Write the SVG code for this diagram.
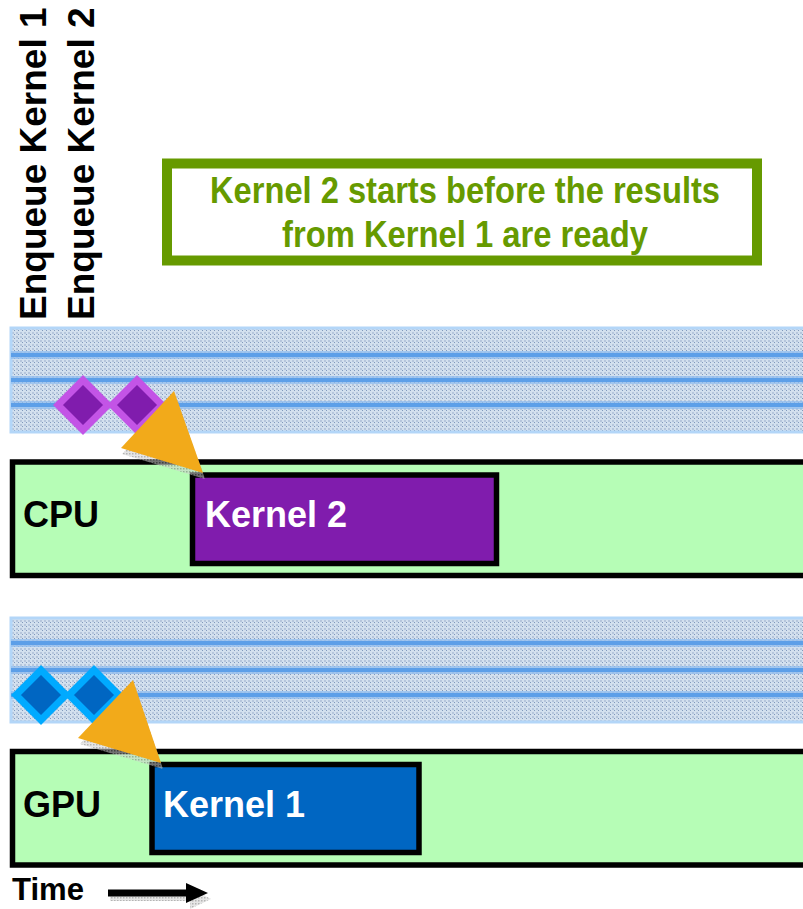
<svg xmlns="http://www.w3.org/2000/svg" width="803" height="909" viewBox="0 0 803 909">
<style>
.lbl{font-family:"Liberation Sans",Arial,sans-serif;font-weight:bold;font-size:36px;}
.lane{fill:#B6FDB6;stroke:#000;stroke-width:5.5;}
.kbox{stroke:#000;stroke-width:5.5;}
.qband{fill:url(#dots);stroke:#B3D6F8;stroke-width:3;}
.qglow{stroke:#8DBCF0;stroke-width:8;opacity:0.7;}
.qline{stroke:#5D9FE8;stroke-width:4;}
.arrow{fill:#F2AA1A;}
.shadow{fill:url(#shd);opacity:0.55;}
</style>
<defs>
<pattern id="dots" width="4" height="4" patternUnits="userSpaceOnUse">
<rect width="4" height="4" fill="#D3E0EE"/>
<rect x="0" y="0" width="2" height="2" fill="#B6C6DC"/>
<rect x="2" y="2" width="1" height="1" fill="#8199BC"/>
</pattern>
<pattern id="shd" width="3" height="3" patternUnits="userSpaceOnUse">
<rect width="3" height="3" fill="#D0D0D0"/>
<rect width="1.5" height="1.5" fill="#777"/>
</pattern>
</defs>
<rect width="803" height="909" fill="#fff"/>

<g id="enqueue-labels" class="lbl" fill="#000">
<text transform="translate(46,320) rotate(-90)" style="font-size:37px">Enqueue Kernel 1</text>
<text transform="translate(94,320) rotate(-90)" style="font-size:37px">Enqueue Kernel 2</text>
</g>

<g id="callout">
<rect x="167" y="163.5" width="590" height="97" fill="#fff" stroke="#669A00" stroke-width="10"/>
<text class="lbl" fill="#669A00" x="465" y="203" text-anchor="middle" textLength="510" lengthAdjust="spacingAndGlyphs">Kernel 2 starts before the results</text>
<text class="lbl" fill="#669A00" x="465" y="247" text-anchor="middle" textLength="366" lengthAdjust="spacingAndGlyphs">from Kernel 1 are ready</text>
</g>

<g id="cpu-queue">
<rect class="qband" x="11" y="328" width="800" height="104"/>
<line class="qglow" x1="11" y1="355" x2="803" y2="355"/>
<line class="qglow" x1="11" y1="380" x2="803" y2="380"/>
<line class="qglow" x1="11" y1="405" x2="803" y2="405"/>
<line class="qline" x1="11" y1="355" x2="803" y2="355"/>
<line class="qline" x1="11" y1="380" x2="803" y2="380"/>
<line class="qline" x1="11" y1="405" x2="803" y2="405"/>
<polygon points="58,405 83,380 108,405 83,430" fill="#801CAD" stroke="#C354E6" stroke-width="7"/>
<polygon points="112,405 137,380 162,405 137,430" fill="#801CAD" stroke="#C354E6" stroke-width="7"/>
</g>

<g id="cpu-lane">
<rect class="lane" x="12.5" y="462" width="800" height="113.5"/>
<text class="lbl" x="23" y="527" fill="#000">CPU</text>
</g>

<g id="kernel2">
<rect class="kbox" x="192.5" y="475" width="304" height="88.5" fill="#801CAD"/>
<text class="lbl" x="205" y="527" fill="#fff">Kernel 2</text>
</g>

<g id="gpu-queue">
<rect class="qband" x="11" y="618" width="800" height="104"/>
<line class="qglow" x1="11" y1="643" x2="803" y2="643"/>
<line class="qglow" x1="11" y1="670" x2="803" y2="670"/>
<line class="qglow" x1="11" y1="695" x2="803" y2="695"/>
<line class="qline" x1="11" y1="643" x2="803" y2="643"/>
<line class="qline" x1="11" y1="670" x2="803" y2="670"/>
<line class="qline" x1="11" y1="695" x2="803" y2="695"/>
<polygon points="16,695 41,670 66,695 41,720" fill="#0066C2" stroke="#00AAFF" stroke-width="7"/>
<polygon points="69,695 94,670 119,695 94,720" fill="#0066C2" stroke="#00AAFF" stroke-width="7"/>
</g>

<g id="gpu-lane">
<rect class="lane" x="12.5" y="751.5" width="800" height="113.5"/>
<text class="lbl" x="23" y="817" fill="#000">GPU</text>
</g>

<g id="kernel1">
<rect class="kbox" x="152" y="764.5" width="267" height="88" fill="#0066C2"/>
<text class="lbl" x="163" y="817" fill="#fff">Kernel 1</text>
</g>

<g id="connectors">
<polygon class="shadow" points="122,454 176,397 205,479"/>
<polygon class="arrow" points="121,448 174,391 203,473"/>
<polygon class="shadow" points="80,744 135,686 163,769"/>
<polygon class="arrow" points="78,738 133,680 161,763"/>
</g>

<g id="time-axis">
<text class="lbl" x="12" y="900" style="font-size:32px" textLength="72" lengthAdjust="spacingAndGlyphs" fill="#000">Time</text>
<polygon class="shadow" points="110,896 190,896 190,888 211,899 190,909 190,901 110,901"/>
<polygon points="108,889.5 186,889.5 186,883 208,893 186,903 186,896.5 108,896.5" fill="#000"/>
</g>
</svg>
